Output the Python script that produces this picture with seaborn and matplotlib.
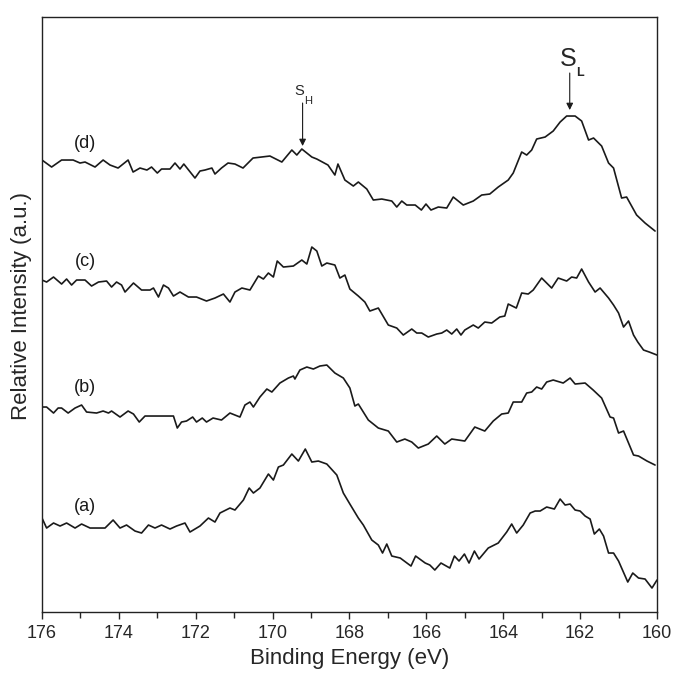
import numpy as np
import pandas as pd
import matplotlib
matplotlib.use("Agg")
import matplotlib.pyplot as plt
import seaborn as sns

# ==========================================
# Data (arbitrary intensity units)
# ==========================================
d_energy = [176.0, 175.75, 175.49, 175.19, 175.01, 174.88, 174.62, 174.41, 174.23, 174.02,
            173.76, 173.63, 173.45, 173.27, 173.15, 173.0, 172.89, 172.67, 172.54, 172.41,
            172.31, 172.02, 171.89, 171.76, 171.58, 171.5, 171.33, 171.16, 170.98, 170.77,
            170.51, 170.29, 170.07, 169.76, 169.5, 169.37, 169.24, 168.98, 168.85, 168.56,
            168.38, 168.3, 168.12, 167.9, 167.77, 167.55, 167.38, 167.16, 166.9, 166.77,
            166.64, 166.51, 166.29, 166.13, 166.01, 165.88, 165.69, 165.47, 165.3, 165.04,
            164.78, 164.56, 164.35, 164.13, 163.87, 163.74, 163.52, 163.39, 163.26, 163.13,
            162.91, 162.7, 162.52, 162.35, 162.13, 161.96, 161.78, 161.65, 161.44, 161.26,
            161.13, 160.92, 160.79, 160.53, 160.31, 160.05]
d_intensity = [452, 445, 452, 452, 449, 450, 445, 452, 447, 444,
               452, 440, 444, 442, 445, 439, 443, 443, 449, 443,
               448, 434, 441, 442, 444, 438, 444, 449, 448, 444,
               454, 455, 456, 450, 462, 457, 463, 455, 453, 447,
               437, 448, 432, 426, 430, 423, 412, 413, 411, 405,
               411, 407, 407, 402, 408, 402, 405, 404, 415, 407,
               411, 417, 418, 425, 432, 439, 460, 457, 462, 473,
               475, 481, 490, 496, 496, 491, 472, 474, 466, 449,
               444, 414, 415, 397, 389, 381]

c_energy = [176.0, 175.88, 175.7, 175.49, 175.36, 175.23, 175.1, 174.88, 174.71, 174.53,
            174.32, 174.19, 174.06, 173.93, 173.84, 173.62, 173.41, 173.19, 173.1, 172.97,
            172.84, 172.71, 172.58, 172.41, 172.19, 171.98, 171.72, 171.5, 171.28, 171.11,
            170.98, 170.8, 170.59, 170.37, 170.24, 170.11, 169.98, 169.88, 169.72, 169.46,
            169.24, 169.11, 168.98, 168.85, 168.72, 168.59, 168.38, 168.25, 168.12, 167.99,
            167.77, 167.6, 167.47, 167.25, 166.99, 166.77, 166.6, 166.38, 166.25, 166.12,
            165.95, 165.73, 165.6, 165.47, 165.34, 165.21, 165.1, 165.0, 164.78, 164.65,
            164.48, 164.3, 164.09, 163.96, 163.87, 163.66, 163.52, 163.35, 163.22, 163.0,
            162.74, 162.57, 162.35, 162.22, 162.09, 161.96, 161.78, 161.61, 161.48, 161.26,
            161.13, 161.0, 160.87, 160.74, 160.61, 160.5, 160.35, 160.2, 160.0]
c_intensity = [332, 330, 335, 328, 333, 327, 332, 332, 326, 330,
               331, 325, 330, 327, 320, 329, 322, 322, 324, 315,
               327, 324, 316, 320, 315, 315, 311, 314, 318, 310,
               320, 324, 322, 336, 333, 339, 335, 351, 345, 346,
               352, 348, 365, 361, 346, 349, 347, 334, 337, 323,
               316, 310, 301, 304, 287, 284, 277, 283, 279, 279,
               275, 278, 279, 282, 278, 283, 277, 282, 287, 284,
               290, 289, 295, 296, 308, 304, 319, 318, 322, 334,
               324, 334, 331, 335, 334, 343, 330, 320, 324, 314,
               307, 299, 285, 291, 277, 270, 262, 260, 257]

b_energy = [176.0, 175.88, 175.7, 175.58, 175.49, 175.32, 175.14, 174.97, 174.84, 174.58,
            174.41, 174.27, 174.19, 173.97, 173.76, 173.62, 173.47, 173.32, 173.02, 172.58,
            172.48, 172.37, 172.24, 172.08, 171.98, 171.83, 171.72, 171.55, 171.33, 171.11,
            170.98, 170.85, 170.72, 170.59, 170.5, 170.33, 170.15, 170.02, 169.81, 169.59,
            169.46, 169.42, 169.29, 169.11, 168.94, 168.77, 168.59, 168.38, 168.16, 167.99,
            167.86, 167.77, 167.51, 167.25, 166.99, 166.77, 166.56, 166.38, 166.21, 165.95,
            165.73, 165.52, 165.34, 165.0, 164.74, 164.48, 164.26, 164.04, 163.87, 163.74,
            163.52, 163.39, 163.26, 163.13, 163.0, 162.87, 162.7, 162.44, 162.26, 162.13,
            161.87, 161.66, 161.44, 161.22, 161.13, 161.0, 160.87, 160.61, 160.48, 160.26,
            160.05]
b_intensity = [205, 205, 199, 204, 204, 199, 204, 207, 200, 199,
               201, 199, 201, 195, 201, 198, 190, 196, 196, 196,
               184, 190, 191, 195, 190, 194, 190, 194, 192, 199,
               197, 195, 207, 210, 205, 215, 223, 220, 229, 234,
               236, 233, 242, 245, 243, 246, 247, 239, 234, 224,
               206, 208, 192, 184, 181, 170, 173, 170, 164, 168,
               176, 168, 173, 171, 185, 181, 191, 198, 199, 210,
               210, 219, 220, 225, 223, 230, 232, 229, 234, 228,
               229, 222, 214, 195, 194, 179, 181, 157, 156, 151,
               147]

a_energy = [176.0, 175.88, 175.7, 175.53, 175.36, 175.14, 174.97, 174.75, 174.58, 174.36,
            174.15, 173.97, 173.8, 173.58, 173.41, 173.23, 173.06, 172.89, 172.67, 172.5,
            172.28, 172.15, 171.89, 171.67, 171.5, 171.37, 171.11, 170.98, 170.76, 170.61,
            170.5, 170.33, 170.11, 169.98, 169.85, 169.72, 169.5, 169.33, 169.15, 168.98,
            168.81, 168.59, 168.33, 168.16, 167.99, 167.77, 167.64, 167.42, 167.25, 167.14,
            167.03, 166.9, 166.68, 166.4, 166.28, 166.03, 165.91, 165.78, 165.62, 165.39,
            165.27, 165.15, 165.01, 164.89, 164.75, 164.63, 164.39, 164.13, 163.91, 163.78,
            163.65, 163.48, 163.3, 163.17, 163.04, 162.87, 162.67, 162.52, 162.39, 162.26,
            162.13, 162.0, 161.87, 161.74, 161.63, 161.5, 161.39, 161.26, 161.13, 161.0,
            160.76, 160.63, 160.48, 160.31, 160.13, 160.0]
a_intensity = [94, 84, 89, 86, 89, 84, 88, 84, 84, 84,
               92, 84, 87, 81, 79, 87, 84, 87, 83, 86,
               89, 80, 86, 94, 90, 99, 104, 102, 112, 124,
               119, 124, 138, 132, 145, 147, 158, 151, 163, 150,
               151, 148, 137, 119, 108, 94, 87, 72, 67, 59,
               68, 56, 54, 46, 56, 49, 47, 42, 49, 44,
               56, 51, 58, 49, 61, 53, 64, 69, 80, 88,
               79, 87, 99, 101, 101, 105, 103, 113, 107, 108,
               102, 101, 96, 93, 78, 83, 76, 59, 59, 51,
               30, 39, 34, 33, 24, 32]

sample_labels = ["(a)", "(b)", "(c)", "(d)"]

# long format table for seaborn
frames = []
for name, e, i in zip(sample_labels,
                      [a_energy, b_energy, c_energy, d_energy],
                      [a_intensity, b_intensity, c_intensity, d_intensity]):
    frames.append(pd.DataFrame({"energy": e, "intensity": i, "sample": name}))
spectra = pd.concat(frames, ignore_index=True)

# ==========================================
# Plot
# ==========================================
sns.set_style("ticks")
plt.rcParams["font.family"] = ["Liberation Sans", "DejaVu Sans"]

fig = plt.figure(figsize=(6.73, 6.73), dpi=100)
ax = fig.add_axes([0.0624, 0.0906, 0.9138, 0.8841])

sns.lineplot(data=spectra, x="energy", y="intensity", units="sample", estimator=None,
             color="#1a1a1a", linewidth=1.2, ax=ax, legend=False)

ax.set_xlim(176, 160)
ax.set_ylim(0, 595)
ax.set_xticks(np.arange(176, 159, -2))
ax.set_xticks(np.arange(175, 160, -2), minor=True)
ax.set_yticks([])
ax.tick_params(axis="x", which="major", direction="out", length=5, width=1, labelsize=13, pad=4)
ax.tick_params(axis="x", which="minor", direction="out", length=4, width=1)
for s in ax.spines.values():
    s.set_visible(True)
    s.set_linewidth(1.0)
    s.set_color("#222222")

ax.set_xlabel("Binding Energy (eV)", fontsize=16, labelpad=5)
ax.set_ylabel("Relative Intensity (a.u.)", fontsize=16)
ax.yaxis.set_label_coords(-0.017, 0.515)

# sample tags
label_y = {"(d)": 469, "(c)": 351, "(b)": 225, "(a)": 106}
for name, yv in label_y.items():
    ax.text(174.88, yv, name, fontsize=13, ha="center", va="center", color="#1a1a1a")

# peak markers
ax.annotate("", xy=(169.22, 466), xytext=(169.22, 509),
            arrowprops=dict(arrowstyle="-|>", color="#1a1a1a", lw=0.8,
                            mutation_scale=10, shrinkA=0, shrinkB=0))
ax.text(169.3, 521, "S", fontsize=10.5, ha="center", va="center")
ax.text(169.08, 511, "H", fontsize=8, ha="center", va="center")

ax.annotate("", xy=(162.27, 502), xytext=(162.27, 539),
            arrowprops=dict(arrowstyle="-|>", color="#1a1a1a", lw=0.8,
                            mutation_scale=10, shrinkA=0, shrinkB=0))
ax.text(162.32, 553, "S", fontsize=18, ha="center", va="center")
ax.text(162.0, 539, "L", fontsize=9, ha="center", va="center", fontweight="bold")

fig.savefig("out.png", dpi=100)
